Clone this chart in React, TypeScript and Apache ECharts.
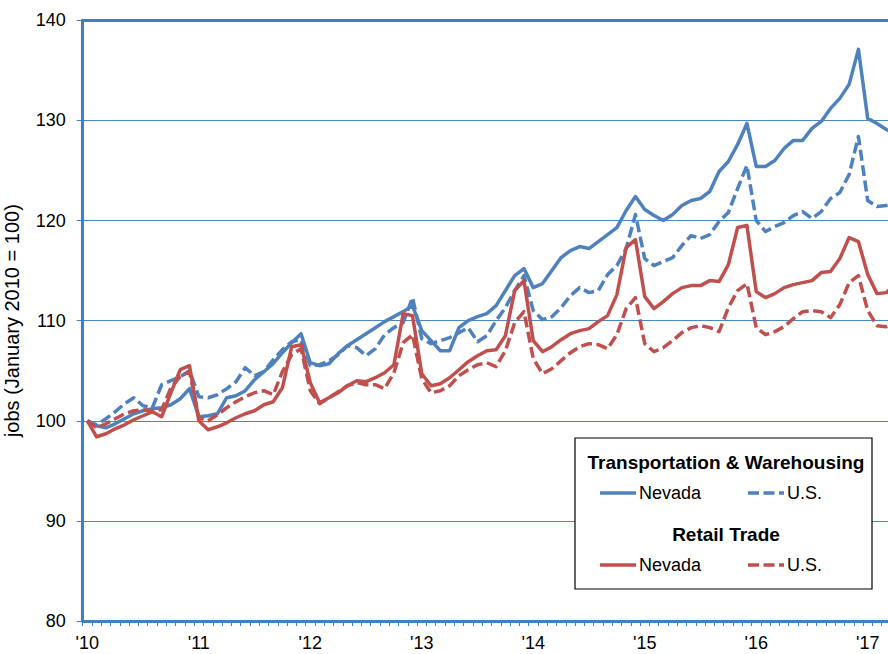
import React, { useEffect, useRef } from "react";
import * as echarts from "echarts";

const years = ["10", "11", "12", "13", "14", "15", "16", "17"];
const monthsShown = 88; // Jan 2010 .. Apr 2017

const twNevada = [
  100.0, 99.5, 99.3, 99.7, 100.2, 100.7, 101.0, 101.2, 101.3, 101.6, 102.2, 103.2,
  100.4, 100.5, 100.7, 102.3, 102.5, 103.0, 104.1, 104.9, 105.7, 106.8, 107.8, 108.7,
  105.8, 105.5, 105.7, 106.7, 107.5, 108.1, 108.7, 109.3, 109.9, 110.4, 110.9, 111.5,
  109.0, 108.0, 107.0, 107.0, 109.3, 110.0, 110.4, 110.7, 111.5, 113.0, 114.5, 115.2,
  113.3, 113.7, 115.0, 116.3, 117.0, 117.4, 117.2, 117.9, 118.6, 119.3, 121.0, 122.4,
  121.1, 120.5, 120.0, 120.6, 121.5, 122.0, 122.2, 122.9, 124.9, 125.9, 127.6, 129.7,
  125.4, 125.4, 126.0, 127.2, 128.0, 128.0, 129.2, 129.9, 131.2, 132.2, 133.6, 137.1,
  130.2, 129.7, 129.1, 128.6,
];

const twUS = [
  100.0, 99.6, 100.2, 100.9, 101.7, 102.3, 101.5, 101.3, 103.6, 104.0, 104.4, 105.0,
  102.4, 102.3, 102.6, 103.2, 103.9, 105.3, 104.5, 104.9, 106.1, 107.1, 107.9, 108.1,
  105.5, 105.6, 106.0, 106.6, 107.5, 107.3, 106.5, 107.2, 108.6, 109.3, 109.8, 112.3,
  108.2, 107.7, 108.0, 108.3, 108.8, 109.3, 107.9, 108.5, 110.0, 111.3, 113.0, 114.5,
  111.0, 110.1, 110.4, 111.3, 112.5, 113.3, 112.8, 113.0, 114.6, 115.5, 117.2, 120.6,
  116.2, 115.5, 115.9, 116.3, 117.5, 118.5, 118.2, 118.6, 119.9, 120.8, 123.2, 125.5,
  120.0, 118.9, 119.4, 119.8, 120.5, 120.9, 120.2, 120.9, 122.2, 122.8, 124.6, 128.4,
  122.0, 121.4, 121.5, 121.6,
];

const retailNevada = [
  100.0, 98.4, 98.7, 99.2, 99.6, 100.1, 100.5, 100.9, 100.4, 102.8, 105.1, 105.5,
  100.0, 99.1, 99.4, 99.8, 100.3, 100.7, 101.0, 101.6, 101.9, 103.3, 107.4, 107.6,
  103.8, 101.8, 102.3, 102.8, 103.5, 104.0, 103.9, 104.3, 104.8, 105.6, 110.7, 110.5,
  104.7, 103.5, 103.7, 104.3, 105.1, 105.9, 106.5, 107.0, 107.1, 108.5, 113.0, 114.0,
  108.0, 106.9, 107.4, 108.1, 108.7, 109.0, 109.2, 109.9, 110.5, 112.6, 117.3, 118.1,
  112.4, 111.2, 111.9, 112.7, 113.3, 113.5, 113.5, 114.0, 113.9, 115.6, 119.3, 119.5,
  112.9, 112.3, 112.7, 113.3, 113.6, 113.8, 114.0, 114.8, 114.9, 116.2, 118.3, 117.9,
  114.6, 112.7, 112.8, 113.6,
];

const retailUS = [
  100.0, 99.3, 99.7, 100.2, 100.7, 101.0, 101.1, 101.0, 101.1, 103.3, 104.4, 104.9,
  100.3, 100.0, 100.6, 101.3, 101.9, 102.4, 102.8, 103.0, 102.6, 104.9, 106.6, 107.2,
  103.0, 101.7, 102.3, 102.9, 103.5, 103.8, 103.6, 103.6, 103.2, 104.8, 107.8, 108.6,
  104.2, 102.8, 103.0, 103.5, 104.5, 105.1, 105.6, 105.8, 105.4, 107.0, 109.8, 110.9,
  106.2, 104.7, 105.2, 106.0, 106.8, 107.4, 107.7, 107.6, 107.2, 108.6, 111.2, 112.3,
  107.7, 106.9, 107.3, 108.0, 108.8, 109.3, 109.5, 109.3, 108.9, 111.3, 113.0, 113.7,
  109.3, 108.6, 108.9, 109.4, 110.2, 110.9, 111.0, 110.9, 110.3, 111.6, 113.8, 114.5,
  111.0, 109.5, 109.4, 109.8,
];

const yTicks = { min: 80, max: 140, interval: 10 };
const yTitle = "jobs (January 2010 = 100)";
const legendGroups = [
  { title: "Transportation & Warehousing", color: "#4f81bd" },
  { title: "Retail Trade", color: "#c0504d" },
];
const legendItems = ["Nevada", "U.S."];

const BLUE = "#4f81bd";
const RED = "#c0504d";
const AXIS = "#3f7fc6";
const FONT = "'Liberation Sans', Arial, sans-serif";
const DASH = [11, 4.5];

const categories: string[] = [];
for (let i = 0; i < monthsShown; i++) {
  const y = years[Math.floor(i / 12)];
  const m = (i % 12) + 1;
  categories.push(`20${y}-${m < 10 ? "0" + m : m}`);
}

export default function App() {
  const ref = useRef<HTMLDivElement>(null);

  useEffect(() => {
    if (!ref.current) return;
    const chart = echarts.init(ref.current, null, { renderer: "svg" });

    const band = 9.29;
    const gridLeft = 82.7;
    const gridTop = 20.3;
    const gridHeight = 600.7;

    const lineSeries = (name: string, data: number[], color: string, dashed: boolean) => ({
      name,
      type: "line",
      data,
      symbol: "none",
      smooth: false,
      lineStyle: { color, width: 3.5, type: dashed ? DASH : "solid", cap: "butt", join: "round" },
      itemStyle: { color },
      emphasis: { disabled: true },
    });

    const legendEls: any[] = [];
    const boxX = 575, boxY = 438, boxW = 297, boxH = 151;
    legendEls.push({
      type: "rect",
      shape: { x: boxX, y: boxY, width: boxW, height: boxH },
      style: { fill: "#fff", stroke: "#000", lineWidth: 1.2 },
      z: 100,
    });
    const titleYs = [462, 534];
    legendGroups.forEach((g, gi) => {
      const ty = titleYs[gi];
      const ry = ty + 31;
      legendEls.push({
        type: "text",
        x: 726,
        y: ty,
        style: {
          text: g.title,
          font: `bold 19px ${FONT}`,
          fill: "#000",
          align: "center",
          verticalAlign: "middle",
        },
        z: 101,
      });
      legendItems.forEach((label, li) => {
        const x0 = li === 0 ? 600 : 748;
        legendEls.push({
          type: "line",
          shape: { x1: x0, y1: ry, x2: x0 + 36, y2: ry },
          style: {
            stroke: g.color,
            lineWidth: 3.5,
            lineDash: li === 0 ? null : DASH,
          },
          z: 101,
        });
        legendEls.push({
          type: "text",
          x: x0 + 39,
          y: ry,
          style: {
            text: label,
            font: `18px ${FONT}`,
            fill: "#000",
            align: "left",
            verticalAlign: "middle",
          },
          z: 101,
        });
      });
    });

    chart.setOption({
      animation: false,
      backgroundColor: "#fff",
      grid: {
        left: gridLeft,
        top: gridTop,
        width: band * monthsShown,
        height: gridHeight,
        containLabel: false,
        outerBoundsMode: "none",
      },
      xAxis: [
        {
          type: "category",
          data: categories,
          boundaryGap: true,
          position: "bottom",
          axisLine: { show: true, lineStyle: { color: AXIS, width: 3 } },
          axisTick: { show: true, interval: 0, alignWithLabel: false, length: 5, lineStyle: { color: AXIS, width: 1 } },
          axisLabel: {
            interval: 11,
            margin: 13,
            color: "#000",
            fontSize: 18,
            fontFamily: FONT,
            formatter: (v: string) => "'" + v.slice(2, 4),
          },
          splitLine: { show: false },
        },
        {
          type: "category",
          data: categories,
          boundaryGap: true,
          position: "top",
          axisLine: { show: true, lineStyle: { color: AXIS, width: 3 } },
          axisTick: { show: false },
          axisLabel: { show: false },
          splitLine: { show: false },
        },
      ],
      yAxis: {
        type: "value",
        min: yTicks.min,
        max: yTicks.max,
        interval: yTicks.interval,
        name: yTitle,
        nameLocation: "middle",
        nameRotate: 90,
        nameGap: 61,
        nameTextStyle: { color: "#000", fontSize: 20, fontFamily: FONT },
        axisLine: { show: true, lineStyle: { color: AXIS, width: 3 } },
        axisTick: { show: true, length: 6, lineStyle: { color: AXIS, width: 1 } },
        axisLabel: { color: "#000", fontSize: 18, fontFamily: FONT, margin: 17 },
        splitLine: { show: true, lineStyle: { color: "#4a86c8", width: 1 } },
      },
      series: [
        lineSeries("Transportation & Warehousing Nevada", twNevada, BLUE, false),
        lineSeries("Transportation & Warehousing U.S.", twUS, BLUE, true),
        lineSeries("Retail Trade Nevada", retailNevada, RED, false),
        lineSeries("Retail Trade U.S.", retailUS, RED, true),
      ],
      graphic: legendEls,
    });

    return () => chart.dispose();
  }, []);

  return (
    <div
      style={{
        position: "absolute",
        left: 0,
        top: 0,
        width: 888,
        height: 654,
        overflow: "hidden",
        background: "#fff",
      }}
    >
      <div ref={ref} style={{ width: 910, height: 654 }} />
    </div>
  );
}
